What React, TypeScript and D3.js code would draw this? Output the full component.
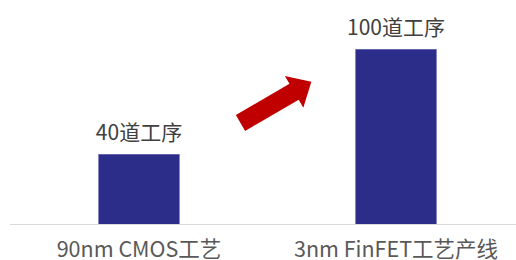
import React, { useEffect, useRef } from "react";
import * as d3 from "d3";

const categories = ["90nm CMOS工艺", "3nm FinFET工艺产线"];
const values = [40, 100];
const valueLabels = ["40道工序", "100道工序"];

const W = 516;
const H = 260;

export default function App() {
  const ref = useRef<SVGSVGElement | null>(null);

  useEffect(() => {
    const svg = d3.select(ref.current);
    svg.selectAll("*").remove();

    const font = "'Noto Sans CJK SC', 'Noto Sans', sans-serif";
    const baseY = 224.5;

    const x = d3
      .scaleBand<string>()
      .domain(categories)
      .range([10.5, 524.5])
      .paddingInner(0.687)
      .paddingOuter(0.3435);

    const y = d3.scaleLinear().domain([0, 100]).range([baseY, 49.5]);

    // bars
    svg
      .selectAll(".bar")
      .data(values)
      .enter()
      .append("rect")
      .attr("class", "bar")
      .attr("x", (d, i) => x(categories[i])!)
      .attr("y", (d) => y(d))
      .attr("width", x.bandwidth())
      .attr("height", (d) => baseY - y(d))
      .attr("fill", "#2B2D88")
      .attr("stroke", "#4446a0")
      .attr("stroke-width", 0.6);

    // axis line
    svg
      .append("line")
      .attr("x1", 10)
      .attr("x2", W)
      .attr("y1", baseY)
      .attr("y2", baseY)
      .attr("stroke", "#D9D9D9")
      .attr("stroke-width", 1.2);

    // value labels
    svg
      .selectAll(".vlabel")
      .data(values)
      .enter()
      .append("text")
      .attr("class", "vlabel")
      .attr("x", (d, i) => x(categories[i])! + x.bandwidth() / 2)
      .attr("y", (d) => y(d) - 15)
      .attr("text-anchor", "middle")
      .attr("font-family", font)
      .attr("font-size", 21)
      .attr("fill", "#404040")
      .text((d, i) => valueLabels[i]);

    // category labels
    svg
      .selectAll(".clabel")
      .data(categories)
      .enter()
      .append("text")
      .attr("class", "clabel")
      .attr("x", (d) => x(d)! + x.bandwidth() / 2)
      .attr("y", 257)
      .attr("text-anchor", "middle")
      .attr("font-family", font)
      .attr("font-size", 21.5)
      .attr("fill", "#595959")
      .text((d) => d);

    // red arrow between the bars
    const shaftW = 18.4;
    const headW = 36.7;
    const headL = 20;
    const len = 82;
    const pts: [number, number][] = [
      [0, -shaftW / 2],
      [len - headL, -shaftW / 2],
      [len - headL, -headW / 2],
      [len, 0],
      [len - headL, headW / 2],
      [len - headL, shaftW / 2],
      [0, shaftW / 2],
    ];
    svg
      .append("polygon")
      .attr("points", pts.map((p) => p.join(",")).join(" "))
      .attr("fill", "#C00000")
      .attr("transform", "translate(240.5,123) rotate(-30.2)");
  }, []);

  return (
    <svg
      ref={ref}
      width={W}
      height={H}
      style={{ position: "absolute", left: 0, top: 0, background: "#fff" }}
    />
  );
}
